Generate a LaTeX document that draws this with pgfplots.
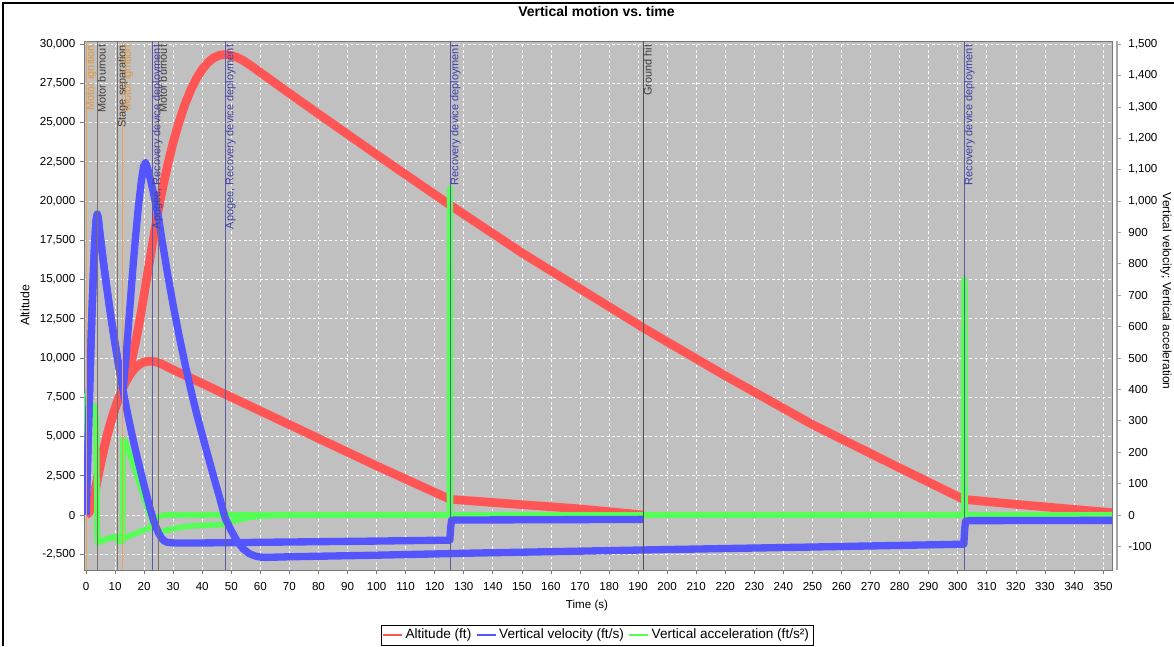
\documentclass[border=0pt]{standalone}
\usepackage{pgfplots}
\usepackage{pgfplotstable}
\pgfplotsset{compat=1.18}
\usepackage{fontspec}
\setmainfont{Liberation Sans}
\setsansfont{Liberation Sans}

\definecolor{cAlt}{RGB}{255,85,85}
\definecolor{cVel}{RGB}{85,85,255}
\definecolor{cAcc}{RGB}{85,255,85}
\definecolor{bg}{RGB}{192,192,192}
\definecolor{evOrange}{RGB}{230,165,90}
\definecolor{evBrown}{RGB}{125,110,100}
\definecolor{evBlue}{RGB}{90,90,165}
\definecolor{evGray}{RGB}{80,80,80}
\definecolor{txOrange}{RGB}{225,150,60}
\definecolor{txGray}{RGB}{60,60,60}
\definecolor{txBlue}{RGB}{60,60,165}
\definecolor{frameGray}{RGB}{120,120,120}
\definecolor{axGray}{RGB}{165,165,165}

\pgfplotstableread{
t alt
0 0
1 160
2 650
3 1420
4 2350
5 3260
6 4100
7 4870
8 5570
9 6200
10 6780
11 7300
12 7780
12.7 8100
13 8220
14 8590
15 8900
16 9160
17 9380
18 9540
19 9660
20 9740
21 9780
22.7 9790
24 9760
26 9620
28 9430
30 9250
40 8380
60 6630
80 4880
100 3130
125.3 1000
150 660
170 390
191.8 0
}\altB

\pgfplotstableread{
t alt
0 0
1 160
2 650
3 1420
4 2350
5 3260
6 4100
7 4870
8 5570
9 6200
10 6780
11 7300
12 7780
12.7 8100
13 8250
14 8750
15 9370
16 10100
17 10950
18 11900
19 12950
20 14050
21 15170
22 16290
23 17390
24 18470
25 19520
26 20480
28 22230
30 23730
32 25030
34 26130
36 27050
38 27800
40 28390
42 28830
44 29130
46 29290
47.9 29330
50 29270
52 29150
54 28960
56 28720
58 28460
60 28190
70 26860
80 25550
100 22960
125 19780
150 16700
192 11900
220 8870
250 5760
280 3000
302 1000
320 680
340 360
353.1 150
}\altS

\pgfplotstableread{
t v
0 0
0.5 150
1 320
1.5 480
2 630
2.5 760
3 870
3.5 940
3.9 958
4.2 945
5 880
6 805
7 735
8 668
9 605
10 546
11 490
12 437
12.7 402
13 386
14 337
15 292
16 249
17 208
18 169
19 131
20 94
21 58
22 22
22.7 0
23 -10
24 -36
25 -58
26 -74
27 -83
28 -87
30 -89
40 -89
60 -87
80 -85
100 -83
125.2 -80
125.5 -40
125.8 -17
127 -16
191.8 -14
}\velB

\pgfplotstableread{
t v
0 0
0.5 150
1 320
1.5 480
2 630
2.5 760
3 870
3.5 940
3.9 958
4.2 945
5 880
6 805
7 735
8 668
9 605
10 546
11 490
12 437
12.7 402
13 420
14 530
15 650
16 770
17 880
18 980
19 1060
19.8 1110
20.5 1122
21.2 1105
22 1075
23 1035
24 990
25 945
26 885
28 772
30 668
32 573
34 485
36 402
38 325
40 255
42 187
44 120
46 55
47.6 0
48 -12
50 -50
52 -83
54 -107
56 -122
58 -130
60 -134
62 -135
70 -133
100 -128
135 -121
200 -110
250 -102
302.1 -93
302.4 -45
302.7 -20
304 -18
353.1 -17
}\velS

\pgfplotstableread{
t a
0 0
0.1 380
1 360
2 350
3 345
3.5 300
3.8 0
4.0 -88
6 -80
8 -74
10.8 -68
11 -85
14 -70
18 -55
22 -40
23.5 -20
25 -6
27 0
125.1 0
125.2 1040
125.4 1040
125.5 0
191.8 0
}\accB

\pgfplotstableread{
t a
0 0
0.1 380
1 360
2 350
3 345
3.5 300
3.8 0
4.0 -88
6 -80
8 -74
10.8 -68
11 -85
12.6 -84
12.7 240
13.5 236
16 166
18 110
20 54
22 -3
24 -45
24.9 -58
27 -50
30 -44
32 -40
35 -36
40 -33
47.6 -30
50 -22
53 -14
56 -8
60 -4
65 -1
70 0
302.1 0
302.2 750
302.4 750
302.5 0
353.1 0
}\accS

\begin{document}
\begin{tikzpicture}
\useasboundingbox (0,0) rectangle (880.5pt,484.5pt);
\draw[black, line width=1.6pt] (2pt,0) -- (2pt,482pt) -- (880.5pt,482pt);

\begin{axis}[
  at={(63pt,57pt)}, anchor=south west,
  width=771pt, height=396.75pt, scale only axis,
  xmin=-0.69, xmax=353.1, ymin=-3503, ymax=30194,
  axis background/.style={fill=bg},
  axis line style={draw=frameGray, line width=0.7pt},
  xtick={0,10,...,350},
  ytick={-2500,0,...,30000},
  grid=major,
  major grid style={draw=white, line width=0.5pt, dash pattern=on 2pt off 2pt},
  tick align=outside, tick pos=left,
  major tick length=3pt,
  every tick/.style={draw=frameGray, line width=0.5pt},
  ticklabel style={font=\fontsize{8.7}{10}\selectfont, text=black},
  xticklabel style={yshift=-2.5pt},
  /pgf/number format/1000 sep={,},
  /pgf/number format/assume math mode=true,
  scaled y ticks=false,
  xlabel={Time (s)},
  xlabel style={at={(axis description cs:0.4893,-0.068)}, anchor=center, font=\fontsize{8.7}{11}\selectfont},
  ylabel={Altitude},
  ylabel style={at={(axis description cs:-0.0574,0.5)}, anchor=center, font=\fontsize{9.2}{11}\selectfont},
  title={Vertical motion vs.\ time},
  title style={at={(axis description cs:0.4985,1.0397)}, anchor=center, font=\bfseries\fontsize{10.5}{12}\selectfont},
]
\addplot[cAlt, line width=6.5pt, line join=round] table[x=t, y=alt] {\altB};
\addplot[cAlt, line width=6.5pt, line join=round] table[x=t, y=alt] {\altS};
\addplot[cAcc, line width=4.2pt, line join=round] table[x=t, y expr=20*\thisrow{a}] {\accB};
\addplot[cAcc, line width=4.2pt, line join=round] table[x=t, y expr=20*\thisrow{a}] {\accS};
\addplot[cVel, line width=5.5pt, line join=round] table[x=t, y expr=20*\thisrow{v}] {\velB};
\addplot[cVel, line width=5.5pt, line join=round] table[x=t, y expr=20*\thisrow{v}] {\velS};

% event lines
\draw[evOrange, line width=0.6pt] (axis cs:0,-3503) -- (axis cs:0,30194);
\draw[evBrown, line width=0.6pt] (axis cs:3.9,-3503) -- (axis cs:3.9,30194);
\draw[evBrown, line width=0.6pt] (axis cs:10.8,-3503) -- (axis cs:10.8,30194);
\draw[evOrange, line width=0.6pt] (axis cs:12.6,-3503) -- (axis cs:12.6,30194);
\draw[evBlue, line width=0.6pt] (axis cs:22.8,-3503) -- (axis cs:22.8,30194);
\draw[evBrown, line width=0.6pt] (axis cs:25.0,-3503) -- (axis cs:25.0,30194);
\draw[evBlue, line width=0.6pt] (axis cs:47.9,-3503) -- (axis cs:47.9,30194);
\draw[evBlue, line width=0.6pt] (axis cs:125.3,-3503) -- (axis cs:125.3,30194);
\draw[evGray, line width=0.6pt] (axis cs:191.8,-3503) -- (axis cs:191.8,30194);
\draw[evBlue, line width=0.6pt] (axis cs:302.2,-3503) -- (axis cs:302.2,30194);

\tikzset{evlab/.style={rotate=90, anchor=north east, inner sep=0pt, xshift=1.9pt, font=\fontsize{8.2}{9}\selectfont}}
\node[evlab, text=txOrange] at (axis cs:0,29800) {Motor ignition};
\node[evlab, text=txGray] at (axis cs:3.9,29800) {Motor burnout};
\node[evlab, text=txGray] at (axis cs:10.8,29800) {Stage separation};
\node[evlab, text=txOrange] at (axis cs:12.6,29800) {Motor ignition};
\node[evlab, text=txBlue] at (axis cs:22.8,29800) {Apogee, Recovery device deployment};
\node[evlab, text=txGray] at (axis cs:25.0,29800) {Motor burnout};
\node[evlab, text=txBlue] at (axis cs:47.9,29800) {Apogee, Recovery device deployment};
\node[evlab, text=txBlue] at (axis cs:125.3,29800) {Recovery device deployment};
\node[evlab, text=txGray] at (axis cs:191.8,29800) {Ground hit};
\node[evlab, text=txBlue] at (axis cs:302.2,29800) {Recovery device deployment};
\end{axis}

\begin{axis}[
  at={(63pt,57pt)}, anchor=south west,
  width=774.75pt, height=396.75pt, scale only axis,
  xmin=0, xmax=1, ymin=-175.15, ymax=1509.7,
  axis x line=none, axis y line*=right,
  axis line style={draw=axGray, line width=0.8pt},
  ytick={-100,0,...,1500},
  tick align=outside,
  major tick length=3pt,
  every tick/.style={draw=axGray, line width=0.5pt},
  ticklabel style={font=\fontsize{8.7}{10}\selectfont, text=black},
  yticklabel style={xshift=2pt},
  /pgf/number format/1000 sep={,},
  /pgf/number format/assume math mode=true,
  scaled y ticks=false,
  ylabel={Vertical velocity; Vertical acceleration},
  ylabel style={at={(axis description cs:1.0474,0.527)}, anchor=center, rotate=180, font=\fontsize{9}{11}\selectfont},
  legend columns=3,
  legend style={at={(axis description cs:0.4966,-0.1035)}, anchor=north, draw=black, line width=0.5pt, fill=white,
    font=\fontsize{10.2}{12}\selectfont, inner sep=1pt,
    /tikz/every odd column/.append style={column sep=0pt},
    /tikz/every even column/.append style={column sep=1.5pt}},
  legend image code/.code={\draw[#1] (0pt,0pt) -- (14.5pt,0pt);},
]
\addlegendimage{draw=cAlt, line width=0.9pt}
\addlegendentry{Altitude (ft)}
\addlegendimage{draw=cVel, line width=0.9pt}
\addlegendentry{Vertical velocity (ft/s)}
\addlegendimage{draw=cAcc, line width=0.9pt}
\addlegendentry{Vertical acceleration (ft/s²)}
\end{axis}
\end{tikzpicture}
\end{document}
